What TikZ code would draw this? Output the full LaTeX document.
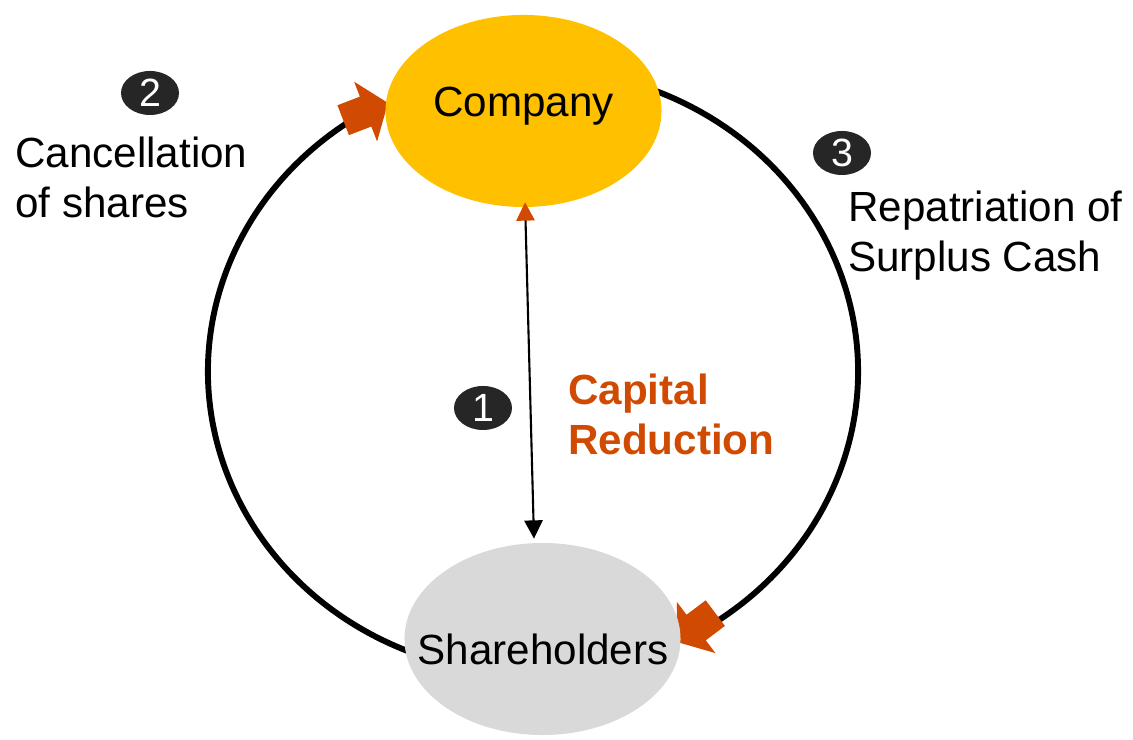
\documentclass[tikz,border=0pt]{standalone}
\usepackage{fontspec}
\setmainfont{Liberation Sans}
\usetikzlibrary{shapes.geometric,arrows.meta}

\definecolor{coyellow}{RGB}{255,192,0}
\definecolor{shgrey}{RGB}{217,217,217}
\definecolor{arrowred}{RGB}{209,74,2}
\definecolor{badgegrey}{RGB}{38,38,38}

\tikzset{
  ring/.style={line width=4.2pt},
  party/.style={ellipse,inner sep=0pt,minimum width=6.9cm,minimum height=4.8cm},
  badge/.style={ellipse,fill=badgegrey,text=white,inner sep=0pt,
    minimum width=1.45cm,minimum height=1.1cm,font=\fontsize{28}{28}\selectfont},
  caption/.style={anchor=north west,inner sep=0pt,align=left,
    font=\fontsize{30}{35.5}\selectfont},
  fatarrow/.pic={
    \fill[arrowred] (0,0) -- (-24,32) -- (-24,16) -- (-48,16) -- (-48,-16)
      -- (-24,-16) -- (-24,-32) -- cycle;
  }
}

\begin{document}
\begin{tikzpicture}[x=0.025cm,y=0.025cm]
  \useasboundingbox (0,0) rectangle (1133,740);
  %Cycle
  \coordinate (hub) at (533,368.5);
  \coordinate (tipA) at (388,637);
  \coordinate (tipB) at (677,98);
  \draw[ring] (hub) ++(250:325 and 303)
    arc[start angle=250,end angle=123,x radius=325,y radius=303];
  \draw[ring] (hub) ++(70:325 and 303)
    arc[start angle=70,end angle=-57,x radius=325,y radius=303];
  \pic[rotate=21] at (tipA) {fatarrow};
  \pic[rotate=217] at (tipB) {fatarrow};

  %Parties
  \node[party,fill=coyellow] (company) at (523.5,629) {};
  \node[party,fill=shgrey] (shareholders) at (542.5,101) {};
  \node[anchor=base,font=\fontsize{30}{36}\selectfont] at (523.5,623) {Company};
  \node[anchor=base,font=\fontsize{30}{36}\selectfont] at (543,75) {Shareholders};

  %Capital reduction
  \draw[line width=1.5pt,shorten <=-3.5pt,shorten >=3pt,
    {Triangle[width=13pt,length=13pt,color=arrowred]}-{Triangle[width=13pt,length=13pt]}]
    (company.271) -- (shareholders.95);

  %Steps
  \node[badge] (one) at (483,332) {1};
  \node[badge] (two) at (150,647) {2};
  \node[badge] (three) at (842,587) {3};
  \node[caption] (cancel) at (15,603) {Cancellation\\of shares};
  \node[caption] (repat) at (848,549) {Repatriation of\\Surplus Cash};
  \node[caption,text=arrowred,font=\fontsize{30}{35.5}\selectfont\bfseries]
    (reduction) at (568,366) {Capital\\Reduction};
\end{tikzpicture}
\end{document}
